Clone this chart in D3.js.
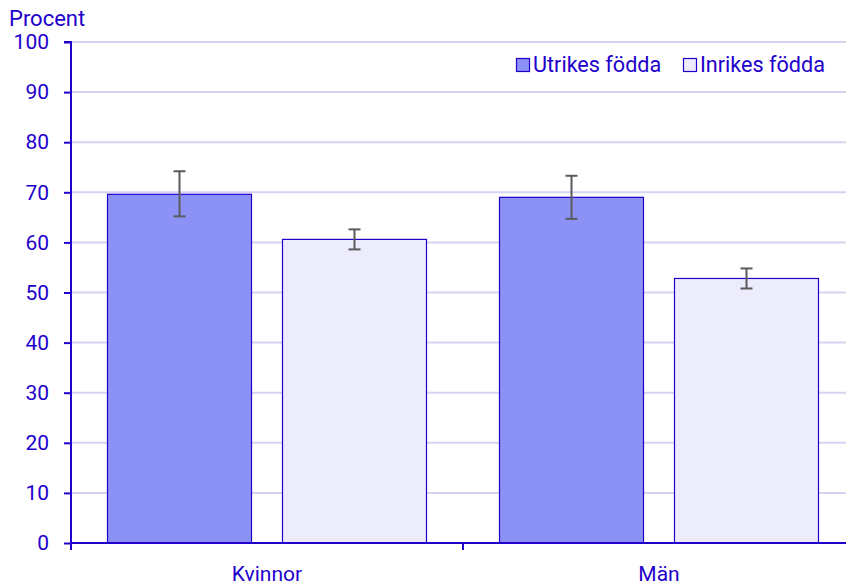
<!DOCTYPE html>
<html><head><meta charset="utf-8">
<script src="https://cdn.jsdelivr.net/npm/d3@7/dist/d3.min.js"></script>
<style>body{margin:0;background:#fff}svg{display:block}text{font-family:Roboto,"Noto Sans",sans-serif}</style>
</head><body><svg id="c" width="846" height="582"></svg>
<script>
const categories = ["Kvinnor", "Män"];
const seriesNames = ["Utrikes födda", "Inrikes födda"];
const utrikes = [69.6, 69.0];
const inrikes = [60.6, 52.8];
const utrikesLow = [65.2, 64.7];
const utrikesHigh = [74.2, 73.3];
const inrikesLow = [58.6, 50.8];
const inrikesHigh = [62.6, 54.8];
const yTicks = [0,10,20,30,40,50,60,70,80,90,100];

const txt = "#2200cc", fills = ["#8c92f5", "#ececfd"], stroke = "#2200cc";
const FS = 21;
const svg = d3.select("#c");
const m = {l:71, r:855, t:42, b:543};
const x = d3.scaleBand().domain(categories).range([m.l, m.r]);
const y = d3.scaleLinear().domain([0,100]).range([m.b, m.t]);
const inner = d3.scaleBand().domain(seriesNames).range([36, x.bandwidth()-36]).paddingInner(30/175);

// grid
svg.append("g").selectAll("line").data(yTicks.slice(1)).join("line")
  .attr("x1", m.l).attr("x2", 846).attr("y1", d=>y(d)).attr("y2", d=>y(d))
  .attr("stroke", "#d4d4f2").attr("stroke-width", 2);

const data = categories.map((c,i)=>[
  {c, s:seriesNames[0], v:utrikes[i], lo:utrikesLow[i], hi:utrikesHigh[i], f:fills[0]},
  {c, s:seriesNames[1], v:inrikes[i], lo:inrikesLow[i], hi:inrikesHigh[i], f:fills[1]}
]).flat();

svg.append("g").selectAll("rect").data(data).join("rect")
  .attr("x", d=>x(d.c)+inner(d.s)+0.5).attr("width", inner.bandwidth()-1)
  .attr("y", d=>y(d.v)).attr("height", d=>y(0)-y(d.v))
  .attr("fill", d=>d.f).attr("stroke", stroke).attr("stroke-width", 1.2);

const eb = svg.append("g").attr("stroke", "#5a5a5a").attr("stroke-width", 2);
data.forEach(d=>{
  const cx = x(d.c)+inner(d.s)+inner.bandwidth()/2;
  eb.append("line").attr("x1",cx).attr("x2",cx).attr("y1",y(d.hi)).attr("y2",y(d.lo));
  eb.append("line").attr("x1",cx-6).attr("x2",cx+6).attr("y1",y(d.hi)).attr("y2",y(d.hi));
  eb.append("line").attr("x1",cx-6).attr("x2",cx+6).attr("y1",y(d.lo)).attr("y2",y(d.lo));
});

// y axis
const ya = svg.append("g").attr("transform", `translate(${m.l},0)`)
  .call(d3.axisLeft(y).tickValues(yTicks).tickSize(7).tickPadding(15));
ya.select(".domain").attr("stroke", txt).attr("stroke-width", 2).attr("d", `M-7,${m.t}H0V${m.b}`);
ya.selectAll(".tick line").attr("stroke", txt).attr("stroke-width", 2);
ya.selectAll(".tick text").attr("fill", txt).attr("font-size", FS).attr("font-family", "Roboto,sans-serif");

// x axis
const xa = svg.append("g").attr("transform", `translate(0,${m.b})`);
xa.append("line").attr("x1", m.l).attr("x2", 846).attr("stroke", txt).attr("stroke-width", 2);
xa.selectAll(".t").data([m.l, x(categories[1])]).join("line")
  .attr("x1", d=>d).attr("x2", d=>d).attr("y1", 0).attr("y2", 7).attr("stroke", txt).attr("stroke-width", 2);
xa.selectAll("text").data(categories).join("text")
  .attr("x", d=>x(d)+x.bandwidth()/2).attr("y", 38).attr("text-anchor","middle")
  .attr("fill", txt).attr("font-size", FS).text(d=>d);

svg.append("text").attr("x", 9).attr("y", 26).attr("fill", txt).attr("font-size", 22).text("Procent");

// legend
const lg = svg.append("g");
const lx = [516, 683];
seriesNames.forEach((s,i)=>{
  lg.append("rect").attr("x", lx[i]+0.5).attr("y", 58.5).attr("width", 13).attr("height", 13)
    .attr("fill", fills[i]).attr("stroke", stroke).attr("stroke-width", 1.2);
  lg.append("text").attr("x", lx[i]+17).attr("y", 72).attr("fill", txt).attr("font-size", 21.6).text(s);
});
</script></body></html>
